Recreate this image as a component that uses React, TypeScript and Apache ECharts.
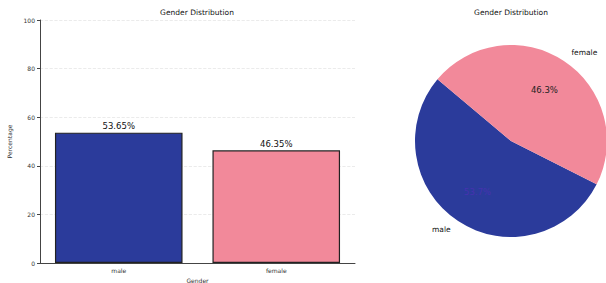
import React, { useEffect, useRef } from "react";
import * as echarts from "echarts";

const categories = ["male", "female"];
const barValues = [53.65, 46.35];
const barLabels = ["53.65%", "46.35%"];
const pieLabels = ["53.7%", "46.3%"];
const yTicks = [0, 20, 40, 60, 80, 100];
const titleText = "Gender Distribution";

const maleColor = "#2b3b9b";
const femaleColor = "#f2899a";
const FONT = "DejaVu Sans";

export default function App() {
  const ref = useRef<HTMLDivElement>(null);
  useEffect(() => {
    document.body.style.margin = "0";
    if (!ref.current) return;
    const chart = echarts.init(ref.current, undefined, { renderer: "svg" });
    const colors = [maleColor, femaleColor];
    const cx = 511, cy = 141, r = 96;
    chart.setOption({
      animation: false,
      backgroundColor: "#ffffff",
      textStyle: { fontFamily: FONT },
      title: [
        {
          text: titleText,
          left: 197,
          top: 8,
          padding: 0,
          textAlign: "center",
          textStyle: { fontFamily: FONT, fontSize: 7.5, fontWeight: "normal", color: "#111" },
        },
        {
          text: titleText,
          left: 511,
          top: 8,
          padding: 0,
          textAlign: "center",
          textStyle: { fontFamily: FONT, fontSize: 7.5, fontWeight: "normal", color: "#111" },
        },
      ],
      grid: { left: 40, top: 20, width: 315, height: 243, containLabel: false, outerBoundsMode: "none" },
      xAxis: {
        type: "category",
        data: categories,
        name: "Gender",
        nameLocation: "middle",
        nameGap: 10,
        nameTextStyle: { fontFamily: FONT, fontSize: 6, color: "#333" },
        axisLine: { lineStyle: { color: "#444", width: 1 } },
        axisTick: { alignWithLabel: true, length: 3, lineStyle: { color: "#444" } },
        axisLabel: { fontFamily: FONT, fontSize: 6, color: "#333", margin: 4 },
        splitLine: { show: false },
      },
      yAxis: {
        type: "value",
        min: yTicks[0],
        max: yTicks[yTicks.length - 1],
        interval: 20,
        name: "Percentage",
        nameLocation: "middle",
        nameGap: 18,
        nameRotate: 90,
        nameTextStyle: { fontFamily: FONT, fontSize: 6, color: "#333" },
        axisLine: { show: true, lineStyle: { color: "#444", width: 1 } },
        axisTick: { show: true, length: 3, lineStyle: { color: "#444" } },
        axisLabel: { fontFamily: FONT, fontSize: 6, color: "#333", margin: 5 },
        splitLine: { show: true, lineStyle: { color: "#e6e6e6", type: "dashed", width: 0.8 } },
      },
      series: [
        {
          type: "bar",
          barWidth: "81%",
          data: barValues.map((v, i) => ({
            value: v,
            itemStyle: { color: colors[i], borderColor: "#222", borderWidth: 1.2 },
          })),
          label: {
            show: true,
            position: "top",
            distance: 2,
            fontFamily: FONT,
            fontSize: 8.5,
            color: "#111",
            formatter: (p: any) => barLabels[p.dataIndex],
          },
        },
        {
          type: "pie",
          center: [cx, cy],
          radius: [0, r],
          startAngle: 140,
          clockwise: false,
          avoidLabelOverlap: false,
          data: categories.map((c, i) => ({
            name: c,
            value: barValues[i],
            itemStyle: { color: colors[i] },
          })),
          label: {
            show: true,
            position: "outside",
            fontFamily: FONT,
            fontSize: 7.5,
            color: "#111",
            distanceToLabelLine: 2,
            formatter: "{b}",
          },
          labelLine: { show: false, length: 10, length2: 0 },
          emphasis: { disabled: true },
        },
        {
          type: "pie",
          center: [cx, cy],
          radius: [0, r * 1.2],
          startAngle: 140,
          clockwise: false,
          silent: true,
          avoidLabelOverlap: false,
          data: categories.map((c, i) => ({
            name: c,
            value: barValues[i],
            itemStyle: { color: "rgba(0,0,0,0)" },
            label: { color: i === 0 ? "#4632b0" : "#222" },
          })),
          label: {
            show: true,
            position: "inside",
            fontFamily: FONT,
            fontSize: 8.5,
            formatter: (p: any) => pieLabels[p.dataIndex],
          },
          labelLine: { show: false },
          emphasis: { disabled: true },
        },
      ],
    });
    return () => chart.dispose();
  }, []);
  return <div ref={ref} style={{ width: 606, height: 283 }} />;
}
